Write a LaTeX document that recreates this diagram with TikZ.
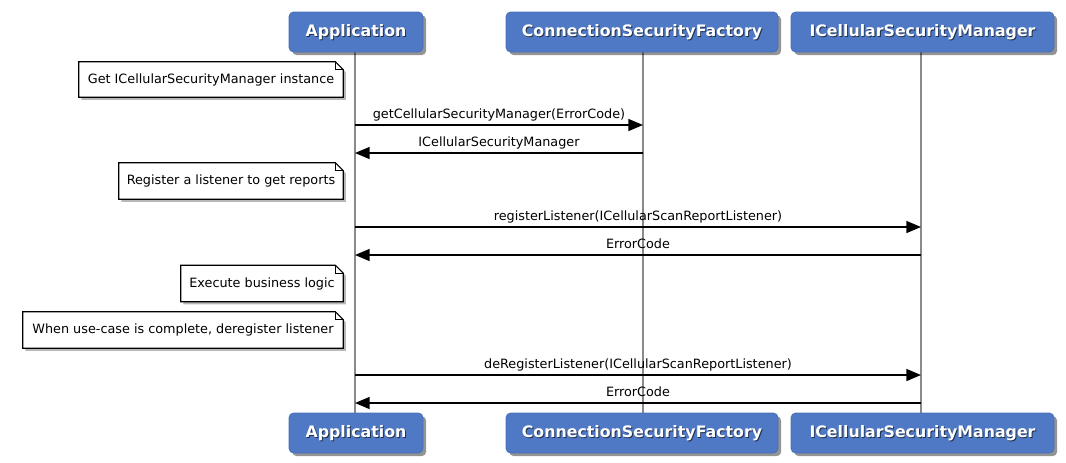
\documentclass[tikz,border=0pt]{standalone}
\usepackage{fontspec}
\setmainfont{DejaVu Sans}
\usetikzlibrary{arrows.meta,backgrounds}
\definecolor{hdr}{HTML}{4F79C4}
\definecolor{hdrborder}{HTML}{4A70B8}
\definecolor{life}{HTML}{8A8A8A}
\tikzset{
  hdrbox/.style={rectangle, rounded corners=3.5pt, fill=hdr, draw=hdrborder, line width=0.6pt, minimum height=30pt, inner sep=0pt},
  hdrshadow/.style={rectangle, rounded corners=3.5pt, fill=black, opacity=0.42, draw=none, minimum height=30pt, inner sep=0pt},
  hdrtext/.style={text=white, inner sep=0pt, font=\bfseries\fontsize{11.85}{14}\selectfont},
  hdrglow/.style={text=black, text opacity=0.6, inner sep=0pt, font=\bfseries\fontsize{11.85}{14}\selectfont},
  lifeline/.style={draw=life, line width=1.2pt},
  msgline/.style={draw=black, line width=1.1pt, -{Triangle[length=11pt,width=9pt]}},
  msglabel/.style={font=\fontsize{9.6}{11}\selectfont, inner sep=0pt, anchor=base, yshift=4.9pt},
  notebox/.style={rectangle, inner sep=0pt, font=\fontsize{9.6}{11}\selectfont},
  notestyle/.style={draw=black, line width=0.8pt, fill=white},
}
\newcommand\drawnote[1]{%
  \begin{scope}[on background layer]
    \fill[black, opacity=0.28] ([shift={(2pt,-2pt)}]#1.south west) -- ([shift={(2pt,-2pt)}]#1.south east) -- ([shift={(2pt,-8pt)}]#1.north east) -- ([shift={(-4pt,-2pt)}]#1.north east) -- ([shift={(2pt,-2pt)}]#1.north west) -- cycle;
    \draw[notestyle] (#1.south west) -- (#1.south east) -- ([yshift=-6pt]#1.north east) -- ([xshift=-6pt]#1.north east) -- (#1.north west) -- cycle;
    \draw[notestyle, fill=none] ([xshift=-6pt]#1.north east) |- ([yshift=-6pt]#1.north east);
  \end{scope}}
\newcommand\drawhdr[5]{% name, x, y, width, text
  \node[hdrshadow, minimum width=#4] (#1s) at ([shift={(2.4pt,-2.4pt)}]#2,#3) {};
  \node[hdrbox, minimum width=#4] (#1) at (#2,#3) {};
  \node[hdrglow] (#1g) at ([shift={(0.7pt,-0.7pt)}]#1.center) {#5};
  \node[hdrtext] (#1t) at (#1.center) {#5};}
\begin{document}
\begin{tikzpicture}[x=0.75pt, y=-0.75pt]
  \useasboundingbox (0,0) rectangle (1066,462);
  \begin{scope}[on background layer]
    \fill[white] (0,0) rectangle (1066,462);
  \end{scope}

  % lifelines (drawn first, under boxes)
  \coordinate (appTop) at (355,52);
  \coordinate (appBot) at (355,413);
  \coordinate (csfTop) at (643,52);
  \coordinate (csfBot) at (643,413);
  \coordinate (icsTop) at (921,52);
  \coordinate (icsBot) at (921,413);
  \draw[lifeline] (appTop) -- (appBot);
  \draw[lifeline] (csfTop) -- (csfBot);
  \draw[lifeline] (icsTop) -- (icsBot);

  % headers
  \drawhdr{appT}{356}{32}{100.5pt}{Application}
  \drawhdr{csfT}{642}{32}{204pt}{ConnectionSecurityFactory}
  \drawhdr{icsT}{922.5}{32}{197.25pt}{ICellularSecurityManager}
  \drawhdr{appB}{356}{433}{100.5pt}{Application}
  \drawhdr{csfB}{642}{433}{204pt}{ConnectionSecurityFactory}
  \drawhdr{icsB}{922.5}{433}{197.25pt}{ICellularSecurityManager}

  % notes
  \node[notebox, minimum width=198pt, minimum height=26.25pt] (n1) at (211,79.5) {Get ICellularSecurityManager instance};
  \drawnote{n1}
  \node[notebox, minimum width=168pt, minimum height=27pt] (n2) at (231,181) {Register a listener to get reports};
  \drawnote{n2}
  \node[notebox, minimum width=121.5pt, minimum height=27pt] (n3) at (262,283.5) {Execute business logic};
  \drawnote{n3}
  \node[notebox, minimum width=240pt, minimum height=27pt] (n4) at (183,330) {When use-case is complete, deregister listener};
  \drawnote{n4}

  % messages
  \coordinate (m1a) at (355,125); \coordinate (m1b) at (643,125);
  \coordinate (m2a) at (355,153); \coordinate (m2b) at (643,153);
  \coordinate (m3a) at (355,227); \coordinate (m3b) at (921,227);
  \coordinate (m4a) at (355,255); \coordinate (m4b) at (921,255);
  \coordinate (m5a) at (355,375); \coordinate (m5b) at (921,375);
  \coordinate (m6a) at (355,403); \coordinate (m6b) at (921,403);

  \draw[msgline] (m1a) -- node[msglabel] {getCellularSecurityManager(ErrorCode)} (m1b);
  \draw[msgline] (m2b) -- node[msglabel] {ICellularSecurityManager} (m2a);
  \draw[msgline] (m3a) -- node[msglabel] {registerListener(ICellularScanReportListener)} (m3b);
  \draw[msgline] (m4b) -- node[msglabel] {ErrorCode} (m4a);
  \draw[msgline] (m5a) -- node[msglabel] {deRegisterListener(ICellularScanReportListener)} (m5b);
  \draw[msgline] (m6b) -- node[msglabel] {ErrorCode} (m6a);
\end{tikzpicture}
\end{document}
